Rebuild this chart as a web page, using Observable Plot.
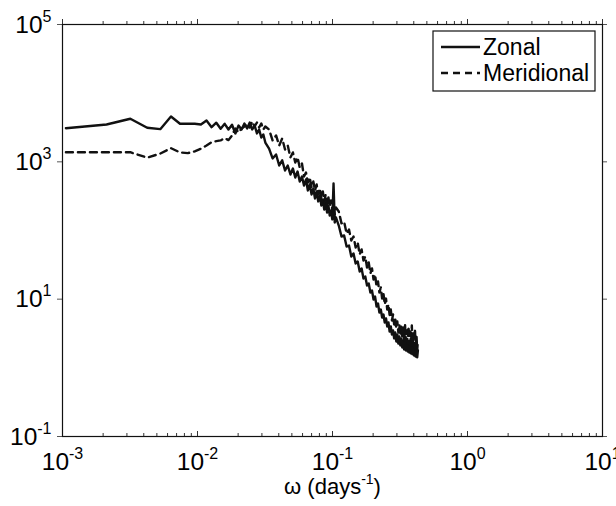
<!DOCTYPE html>
<html><head><meta charset="utf-8">
<script src="https://cdn.jsdelivr.net/npm/d3@7"></script>
<script src="https://cdn.jsdelivr.net/npm/@observablehq/plot@0.6"></script>
<style>
body{margin:0;background:#fff;}
svg{font-family:"Liberation Sans",Arial,Helvetica,sans-serif;}
</style>
</head><body><div id="chart"></div>
<script>
// frequency (days^-1)
const freq = [
0.00106,0.00212,0.00318,0.00424,0.0053,0.00636,0.00742,0.00848,0.00954,0.0106,
0.01166,0.01272,0.01378,0.01484,0.0159,0.01696,0.01802,0.01908,0.02014,0.0212,
0.02226,0.02332,0.02438,0.02544,0.0265,0.02756,0.02862,0.02968,0.03074,0.0318,
0.0339,0.036,0.0382,0.0403,0.0424,0.0445,0.0466,0.0488,0.0509,0.053,
0.0551,0.0572,0.0594,0.0615,0.0636,0.0657,0.0678,0.07,0.0721,0.0742,
0.0763,0.0784,0.0806,0.0827,0.0848,0.0869,0.089,0.0912,0.0933,0.0954,
0.0975,0.0996,0.1018,0.1039,0.106,
0.1113,0.1166,0.1219,0.1272,0.1325,0.1378,0.1431,0.1484,0.1537,0.159,
0.1643,0.1696,0.1749,0.1802,0.1855,0.1908,0.1961,0.2014,0.2067,0.212,
0.2173,0.2226,0.2279,0.2332,0.2385,0.2438,0.2491,0.2544,0.2597,0.265,
0.2703,0.2756,0.2809,0.2862,0.2915,0.2968,0.3021,0.3074,0.3127,0.318,
0.3233,0.3286,0.3339,0.3392,0.3445,0.3498,0.3551,0.3604,0.3657,0.371,
0.3763,0.3816,0.3869,0.3922,0.3975,0.4028,0.4081,0.4134,0.4187,0.424,0.4293];

const zonal = [
3090,3500,4240,3130,2990,4570,3580,3580,3580,3500,
4000,3200,3710,3030,3580,2960,3470,2590,3380,2960,
3620,3060,3740,2960,3380,2590,2960,2260,2500,1910,
1560,1120,1280,885,1050,748,885,654,800,592,
723,517,612,452,553,383,468,335,409,293,
370,265,324,231,283,202,256,183,231,165,
196,145,484,131,155,
118,81.8,84.6,58.5,60.5,41.8,46.3,33.1,35.4,25.3,
28.0,20.0,21.4,15.8,16.9,12.5,13.4,9.90,10.9,7.83,
8.65,6.40,7.07,5.41,5.98,4.58,5.23,4.00,4.58,3.38,
4.00,3.06,3.50,2.68,3.27,2.42,3.06,2.26,2.86,2.12,
2.68,1.98,2.50,1.85,2.42,1.79,2.34,1.73,2.26,1.67,
2.19,1.62,2.12,1.57,2.05,1.51,1.98,1.46,1.91,1.42,1.79];

const meridional = [
1380,1380,1380,1150,1320,1580,1370,1340,1420,1550,
1730,1930,2000,2050,2210,2070,2420,3060,2680,3060,
3270,3620,3160,3870,3270,3740,3160,3620,2960,3270,
2960,2050,2420,1730,2190,1510,1730,1160,1370,978,
1160,827,946,612,700,500,592,423,517,383,
468,335,409,293,370,265,335,239,303,224,
274,196,239,171,216,
189,127,135,90.5,103,71.5,81.8,56.6,66.9,44.8,
52.9,36.6,41.8,28.9,34.2,23.7,28.0,19.3,22.9,15.3,
18.1,12.5,14.8,10.2,12.1,8.37,10.2,7.07,8.37,5.79,
7.07,4.89,5.98,4.28,5.23,3.74,4.73,3.27,4.28,2.96,
4.14,2.77,3.87,2.50,4.28,2.42,3.50,2.26,4.00,2.19,
3.38,2.12,4.14,2.05,3.17,1.98,3.74,1.85,3.06,1.79,2.50];

const seriesNames = ["Zonal", "Meridional"];
const xMajor = [1e-3, 1e-2, 1e-1, 1, 10];
const xLabels = ["10^-3", "10^-2", "10^-1", "10^0", "10^1"];
const xMinor = [2e-3,3e-3,4e-3,5e-3,6e-3,7e-3,8e-3,9e-3,
                2e-2,3e-2,4e-2,5e-2,6e-2,7e-2,8e-2,9e-2,
                0.2,0.3,0.4,0.5,0.6,0.7,0.8,0.9,
                2,3,4,5,6,7,8,9];
const yMajor = [1e-1, 1e1, 1e3, 1e5];
const yLabels = ["10^-1", "10^1", "10^3", "10^5"];
const xTitle = "ω (days^-1)";

const zRows = freq.map((f, i) => ({f, p: zonal[i]}));
const mRows = freq.map((f, i) => ({f, p: meridional[i]}));

const W = 616, H = 506, ML = 62, MR = 14, MT = 24, MB = 70;
const FW = W - ML - MR, FH = H - MT - MB;
const ink = "#111";

const plot = Plot.plot({
  width: W, height: H,
  marginLeft: ML, marginRight: MR, marginTop: MT, marginBottom: MB,
  x: {type: "log", domain: [1e-3, 10], axis: null},
  y: {type: "log", domain: [0.1, 1e5], axis: null},
  style: {background: "#fff", fontFamily: "Liberation Sans, Arial, Helvetica, sans-serif", color: "#000"},
  marks: [
    // ticks: top (outward), bottom (inward)
    Plot.tickX(xMajor, {x: d => d, stroke: "#333", insetTop: -5, insetBottom: FH}),
    Plot.tickX(xMinor, {x: d => d, stroke: "#333", insetTop: -3, insetBottom: FH}),
    Plot.tickX(xMajor, {x: d => d, stroke: "#333", insetTop: FH - 5, insetBottom: 0}),
    Plot.tickX(xMinor, {x: d => d, stroke: "#333", insetTop: FH - 3, insetBottom: 0}),
    // left & right ticks (outward)
    Plot.tickY(yMajor, {y: d => d, stroke: "#555", insetLeft: -5, insetRight: FW}),
    Plot.tickY(yMajor, {y: d => d, stroke: "#555", insetLeft: FW, insetRight: -5}),
    Plot.frame({stroke: ink, strokeWidth: 1.2}),
    // data
    Plot.line(zRows, {x: "f", y: "p", stroke: ink, strokeWidth: 2.4, strokeLinejoin: "round"}),
    Plot.line(mRows, {x: "f", y: "p", stroke: ink, strokeWidth: 2.4, strokeDasharray: "7,5"}),
    // tick labels
    Plot.text(xLabels, {x: (d, i) => xMajor[i], y: () => 0.1, text: d => d, dy: 33,
      lineAnchor: "bottom", textAnchor: "middle", fontSize: 24.5, fill: "#000"}),
    Plot.text(yLabels, {x: () => 1e-3, y: (d, i) => yMajor[i], text: d => d, dx: -11, dy: 8,
      lineAnchor: "bottom", textAnchor: "end", fontSize: 24.5, fill: "#000"}),
    Plot.text([xTitle], {frameAnchor: "bottom", text: d => d, dy: 57, lineAnchor: "bottom",
      textAnchor: "middle", fontSize: 22, fill: "#000"})
  ]
});

document.getElementById("chart").appendChild(plot);

const svg = d3.select(plot);
svg.selectAll("text").filter(function () { return this.textContent.includes("^"); }).each(function () {
  const t = d3.select(this);
  const full = this.textContent;
  const [b, rest] = full.split("^");
  t.text("");
  if (rest.includes(")")) {
    t.append("tspan").text(b);
    t.append("tspan").attr("dy", -10).attr("font-size", 14).text(rest.replace(")", ""));
    t.append("tspan").attr("dy", 10).text(")");
  } else {
    t.append("tspan").text(b);
    t.append("tspan").attr("dy", -11).attr("font-size", 16).text(rest);
  }
});

// legend (inside the axes, top right)
const lg = svg.append("g").attr("aria-label", "legend");
lg.append("rect").attr("x", 433).attr("y", 31).attr("width", 162).attr("height", 60)
  .attr("fill", "#fff").attr("stroke", ink).attr("stroke-width", 1.2);
const rowsY = [47, 73];
seriesNames.forEach((name, i) => {
  lg.append("line").attr("x1", 441).attr("x2", 480).attr("y1", rowsY[i]).attr("y2", rowsY[i])
    .attr("stroke", ink).attr("stroke-width", 2.4)
    .attr("stroke-dasharray", i === 1 ? "7,5" : null);
  lg.append("text").attr("x", 483).attr("y", rowsY[i] + 8).attr("font-size", 23)
    .attr("text-anchor", "start").attr("fill", "#000").text(name);
});
</script>
</body></html>
